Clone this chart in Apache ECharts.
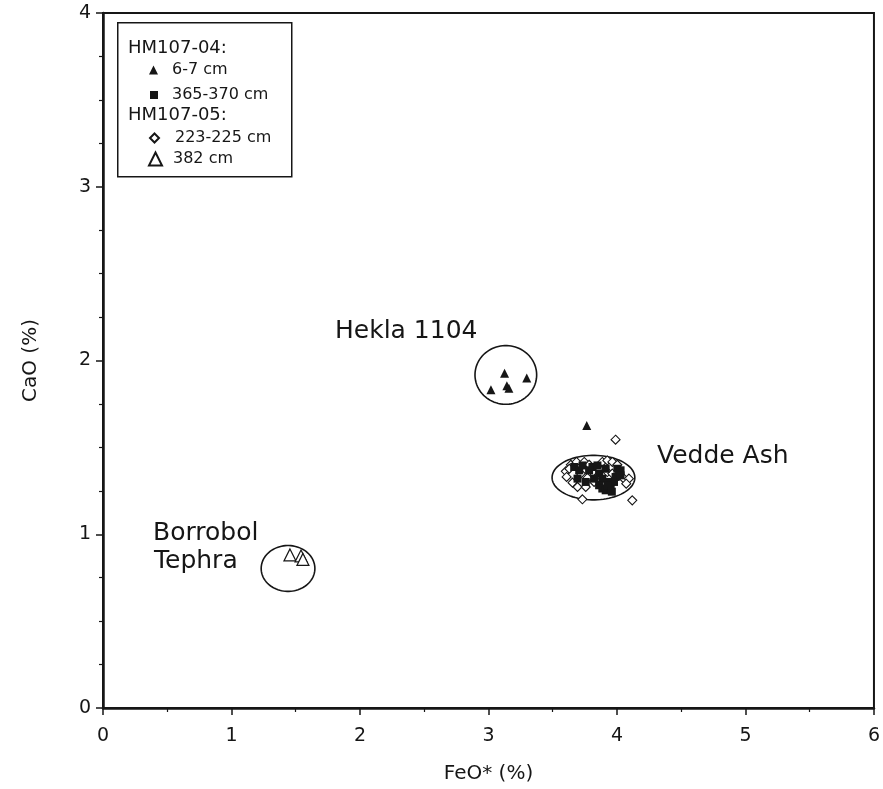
<!DOCTYPE html>
<html>
<head>
<meta charset="utf-8">
<script src="https://cdn.jsdelivr.net/npm/echarts@6/dist/echarts.min.js"></script>
<style>
html,body{margin:0;padding:0;background:#fff;}
#chart{width:883px;height:789px;}
</style>
</head>
<body>
<div id="chart"></div>
<script>
// ---- Data (FeO* %, CaO %) ----
var xTicks = [0, 1, 2, 3, 4, 5, 6];
var yTicks = [0, 1, 2, 3, 4];

var seriesNames = ['6-7 cm', '365-370 cm', '223-225 cm', '382 cm'];
var groupHeaders = ['HM107-04:', 'HM107-05:'];

// HM107-04, 6-7 cm (filled triangles)
var hm04_6_7 = [
  [3.125, 1.927], [3.298, 1.900], [3.019, 1.832], [3.143, 1.855], [3.159, 1.840],
  [3.765, 1.626]
];

// HM107-04, 365-370 cm (filled squares)
var hm04_365_370 = [
  [3.667, 1.387], [3.706, 1.368], [3.732, 1.396], [3.783, 1.368], [3.809, 1.387],
  [3.848, 1.396], [3.861, 1.349], [3.886, 1.320], [3.861, 1.282], [3.886, 1.263],
  [3.912, 1.253], [3.951, 1.263], [3.938, 1.301], [3.977, 1.301], [4.003, 1.377],
  [4.028, 1.368], [3.989, 1.330], [3.912, 1.377], [3.822, 1.320], [3.693, 1.320],
  [3.757, 1.301], [4.028, 1.339], [3.925, 1.280], [3.960, 1.245]
];

// HM107-05, 223-225 cm (open diamonds)
var hm05_223_225 = [
  [3.602, 1.362], [3.608, 1.330], [3.641, 1.400], [3.685, 1.416], [3.745, 1.416],
  [3.783, 1.400], [3.654, 1.297], [3.693, 1.272], [3.757, 1.272], [3.770, 1.324],
  [3.822, 1.301], [3.835, 1.330], [3.886, 1.416], [3.925, 1.425], [3.964, 1.416],
  [4.003, 1.400], [3.925, 1.358], [3.964, 1.349], [4.016, 1.339], [4.054, 1.320],
  [4.093, 1.320], [4.072, 1.291], [3.861, 1.377], [3.809, 1.358], [3.718, 1.349],
  [3.629, 1.377], [3.989, 1.544], [4.119, 1.195], [3.731, 1.201]
];

// HM107-05, 382 cm (open triangles)
var hm05_382 = [
  [1.455, 0.881], [1.541, 0.875], [1.556, 0.855]
];

// Grouping ellipses: [centre x, centre y, radius x, radius y]
var ellipses = [
  [3.135, 1.917, 0.240, 0.169],  // Hekla 1104
  [3.817, 1.326, 0.322, 0.128],  // Vedde Ash
  [1.440, 0.803, 0.209, 0.132]   // Borrobol Tephra
];
var annotations = ['Hekla 1104', 'Vedde Ash', 'Borrobol', 'Tephra'];

var FONT = 'DejaVu Sans';
var INK = '#161616';

var chart = echarts.init(document.getElementById('chart'), null, {renderer: 'canvas'});

function legendFor(name, top, left, size, padLeft) {
  return {
    show: true,
    data: [name],
    orient: 'vertical',
    top: top,
    left: left,
    padding: 0,
    itemWidth: size,
    itemHeight: size,
    selectedMode: false,
    textStyle: {fontFamily: FONT, fontSize: 16, color: INK, padding: [0, 0, 0, padLeft]}
  };
}

var option = {
  animation: false,
  backgroundColor: '#ffffff',
  grid: {
    left: 103, right: 4, top: 13, bottom: 79,
    show: true, borderColor: INK, borderWidth: 2, backgroundColor: 'transparent'
  },
  xAxis: {
    type: 'value', min: 0, max: 6, interval: 1,
    name: 'FeO* (%)', nameLocation: 'middle', nameGap: 56,
    nameTextStyle: {fontFamily: FONT, fontSize: 20, color: INK},
    axisLine: {show: true, onZero: false, lineStyle: {color: INK, width: 2.5}},
    axisTick: {show: true, inside: false, length: 7, lineStyle: {color: INK, width: 1.5}},
    minorTick: {show: true, splitNumber: 2, length: 4, lineStyle: {color: INK, width: 1.2}},
    splitLine: {show: false},
    axisLabel: {fontFamily: FONT, fontSize: 19, color: INK, margin: 19,
      formatter: function (v) { return xTicks.indexOf(v) >= 0 ? String(v) : ''; }}
  },
  yAxis: {
    type: 'value', min: 0, max: 4, interval: 1,
    name: 'CaO (%)', nameLocation: 'middle', nameGap: 62, nameRotate: 90,
    nameTextStyle: {fontFamily: FONT, fontSize: 20, color: INK},
    axisLine: {show: true, onZero: false, lineStyle: {color: INK, width: 2.5}},
    axisTick: {show: true, inside: false, length: 7, lineStyle: {color: INK, width: 1.5}},
    minorTick: {show: true, splitNumber: 4, length: 4, lineStyle: {color: INK, width: 1.2}},
    splitLine: {show: false},
    axisLabel: {fontFamily: FONT, fontSize: 19, color: INK, margin: 12,
      formatter: function (v) { return yTicks.indexOf(v) >= 0 ? String(v) : ''; }}
  },
  legend: [
    legendFor(seriesNames[0], 62, 149, 9, 9),
    legendFor(seriesNames[1], 87, 150, 8, 9),
    legendFor(seriesNames[2], 130, 149, 9, 11),
    legendFor(seriesNames[3], 151, 148, 13, 6)
  ],
  graphic: [
    {type: 'rect', left: 117, top: 22, z: 0, silent: true,
      shape: {width: 174, height: 154},
      style: {fill: 'transparent', stroke: INK, lineWidth: 1.5}},
    {type: 'text', left: 128, top: 39, silent: true,
      style: {text: groupHeaders[0], fontFamily: FONT, fontSize: 18, fill: INK}},
    {type: 'text', left: 128, top: 106, silent: true,
      style: {text: groupHeaders[1], fontFamily: FONT, fontSize: 18, fill: INK}},
    {type: 'text', left: 335, top: 319, silent: true,
      style: {text: annotations[0], fontFamily: FONT, fontSize: 25, fill: INK}},
    {type: 'text', left: 657, top: 444, silent: true,
      style: {text: annotations[1], fontFamily: FONT, fontSize: 25, fill: INK}},
    {type: 'text', left: 153, top: 521, silent: true,
      style: {text: annotations[2], fontFamily: FONT, fontSize: 25, fill: INK}},
    {type: 'text', left: 154, top: 549, silent: true,
      style: {text: annotations[3], fontFamily: FONT, fontSize: 25, fill: INK}}
  ],
  series: [
    {
      type: 'custom', name: 'ellipses', silent: true,
      data: ellipses,
      encode: {x: 0, y: 1},
      renderItem: function (params, api) {
        var cx = api.value(0), cy = api.value(1), rx = api.value(2), ry = api.value(3);
        var pts = [];
        for (var i = 0; i < 90; i++) {
          var t = i / 90 * Math.PI * 2;
          pts.push(api.coord([cx + rx * Math.cos(t), cy + ry * Math.sin(t)]));
        }
        return {
          type: 'polygon',
          shape: {points: pts},
          style: {fill: null, stroke: INK, lineWidth: 1.6}
        };
      },
      z: 1
    },
    {
      name: seriesNames[2], type: 'scatter', data: hm05_223_225,
      symbol: 'diamond', symbolSize: 9,
      itemStyle: {color: '#ffffff', borderColor: INK, borderWidth: 1.1, opacity: 1},
      z: 2
    },
    {
      name: seriesNames[1], type: 'scatter', data: hm04_365_370,
      symbol: 'rect', symbolSize: 8,
      itemStyle: {color: INK, opacity: 1},
      z: 3
    },
    {
      name: seriesNames[0], type: 'scatter', data: hm04_6_7,
      symbol: 'triangle', symbolSize: 9,
      itemStyle: {color: INK, opacity: 1},
      z: 4
    },
    {
      name: seriesNames[3], type: 'scatter', data: hm05_382,
      symbol: 'triangle', symbolSize: 12,
      itemStyle: {color: '#ffffff', borderColor: INK, borderWidth: 1.2, opacity: 1},
      z: 4
    }
  ]
};

chart.setOption(option);
</script>
</body>
</html>
